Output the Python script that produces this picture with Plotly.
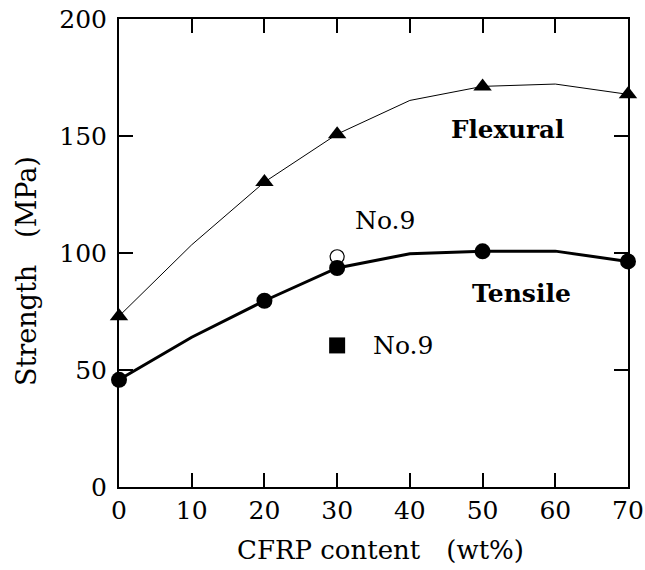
import plotly.graph_objects as go

# Data
cfrp_content = [0, 10, 20, 30, 40, 50, 60, 70]
flexural = [73, 103.5, 130.3, 150.8, 165.2, 171.2, 172.2, 167.8]
tensile = [45.8, 64, 79.6, 93.6, 99.7, 100.7, 100.8, 96.4]
measured_x = [0, 20, 30, 50, 70]
no9_open = (30, 98.4)     # open circle, tensile No.9
no9_square = (30, 60.5)   # filled square, No.9
x_ticks = [0, 10, 20, 30, 40, 50, 60, 70]
y_ticks = [0, 50, 100, 150, 200]

FONT = "DejaVu Serif"

def pick(xs, ys, keep):
    return [x for x in xs if x in keep], [y for x, y in zip(xs, ys) if x in keep]

fig = go.Figure()

# Flexural line + triangles
fig.add_trace(go.Scatter(x=cfrp_content, y=flexural, mode="lines",
                         line=dict(color="black", width=1), hoverinfo="skip"))
fx, fy = pick(cfrp_content, flexural, measured_x)
fig.add_trace(go.Scatter(x=fx, y=fy, mode="markers",
                         marker=dict(symbol="triangle-up", size=16, color="black"),
                         cliponaxis=False))

# No.9 open circle (behind filled circle)
fig.add_trace(go.Scatter(x=[no9_open[0]], y=[no9_open[1]], mode="markers",
                         marker=dict(symbol="circle", size=14, color="white",
                                     line=dict(color="black", width=1.2)),
                         cliponaxis=False))

# Tensile line + circles
fig.add_trace(go.Scatter(x=cfrp_content, y=tensile, mode="lines",
                         line=dict(color="black", width=3), hoverinfo="skip"))
tx, ty = pick(cfrp_content, tensile, measured_x)
fig.add_trace(go.Scatter(x=tx, y=ty, mode="markers",
                         marker=dict(symbol="circle", size=16, color="black"),
                         cliponaxis=False))

# No.9 square
fig.add_trace(go.Scatter(x=[no9_square[0]], y=[no9_square[1]], mode="markers",
                         marker=dict(symbol="square", size=16, color="black"),
                         cliponaxis=False))

ann_font = dict(family=FONT, size=25, color="black")
fig.add_annotation(x=36.6, y=113.8, text="No.9", showarrow=False, font=ann_font)
fig.add_annotation(x=39.1, y=60.6, text="No.9", showarrow=False, font=ann_font)
fig.add_annotation(x=53.4, y=152.7, text="<b>Flexural</b>", showarrow=False,
                   font=dict(family=FONT, size=24.6, color="black"))
fig.add_annotation(x=55.3, y=82.9, text="<b>Tensile</b>", showarrow=False,
                   font=dict(family=FONT, size=25, color="black"))

# Axis titles (placed in paper coordinates)
fig.add_annotation(xref="paper", yref="paper", x=0.514, y=-0.1346,
                   xanchor="center", yanchor="middle", showarrow=False,
                   text="CFRP content\u2003(wt%)",
                   font=dict(family=FONT, size=26, color="black"))
fig.add_annotation(xref="paper", yref="paper", x=-0.1827, y=0.4615,
                   xanchor="center", yanchor="middle", showarrow=False, textangle=-90,
                   text="Strength\u2003(MPa)",
                   font=dict(family=FONT, size=27, color="black"))

axis_common = dict(showgrid=False, zeroline=False, showline=True, linecolor="black",
                   linewidth=2, mirror="ticks", ticks="inside", ticklen=14,
                   tickwidth=1.5, tickcolor="black", automargin=False,
                   ticklabeloverflow="allow",
                   tickfont=dict(family=FONT, size=25, color="black"))

fig.update_xaxes(range=[0, 70], tickvals=x_ticks, ticktext=[str(v) for v in x_ticks],
                 **axis_common)
fig.update_yaxes(range=[0, 200], tickvals=y_ticks, ticktext=[str(v) for v in y_ticks],
                 ticklabelstandoff=5, **axis_common)

fig.update_layout(width=645, height=570, showlegend=False,
                  plot_bgcolor="white", paper_bgcolor="white",
                  margin=dict(l=119, r=17, t=19, b=83))

fig.write_html("out.html", config={"displayModeBar": False},
               post_script="document.body.style.margin='0';document.body.style.overflow='hidden';")
